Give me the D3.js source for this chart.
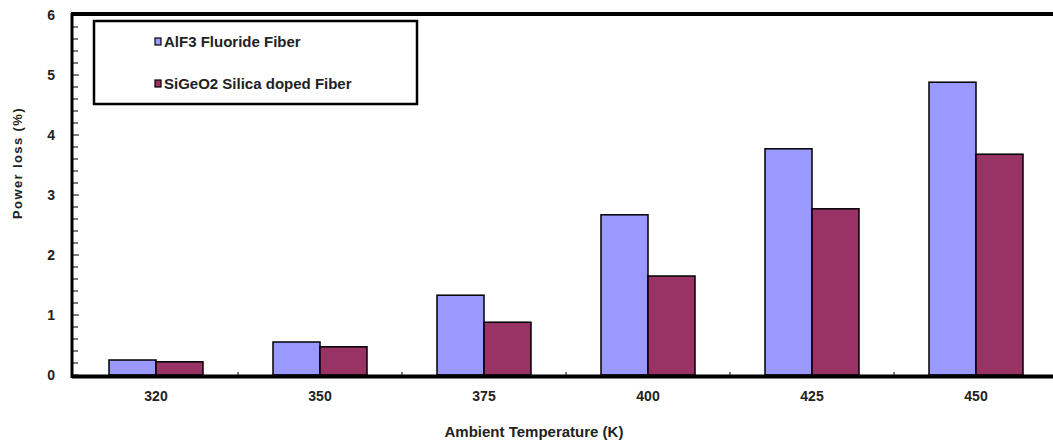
<!DOCTYPE html>
<html><head><meta charset="utf-8">
<script src="https://cdn.jsdelivr.net/npm/d3@7"></script>
<style>body{margin:0;background:#fff}svg{display:block}text{font-family:"Liberation Sans",Arial,sans-serif;fill:#222}</style>
</head><body><svg id="c" width="1053" height="443"></svg>
<script>
const categories = ["320","350","375","400","425","450"];
const seriesNames = ["AlF3 Fluoride Fiber","SiGeO2 Silica doped Fiber"];
const alf3 = [0.25,0.55,1.33,2.67,3.77,4.88];
const sige = [0.22,0.47,0.88,1.65,2.77,3.68];
const yTicks = [0,1,2,3,4,5,6];
const colors = ["#9999FF","#993366"];

const svg = d3.select("#c");
const x0 = 74, yTop = 15, yBot = 375;
const x = d3.scaleBand().domain(categories).range([x0, x0+164*6]).paddingInner(0).paddingOuter(0);
const y = d3.scaleLinear().domain([0,6]).range([yBot, yTop]);
const barW = 47;
const inner = d3.scaleBand().domain([0,1]).range([0, barW*2]);

const series = [alf3, sige];
series.forEach((vals,si)=>{
  svg.append("g").selectAll("rect").data(vals).join("rect")
    .attr("x",(d,i)=>x(categories[i]) + x.bandwidth()/2 - barW + inner(si))
    .attr("y",d=>y(d))
    .attr("width",barW)
    .attr("height",d=>y(0)-y(d))
    .attr("fill",colors[si]).attr("stroke","#000").attr("stroke-width",1.5);
});

// y axis minor ticks
const minor = d3.range(0,6.001,0.2);
svg.append("g").selectAll("line").data(minor).join("line")
  .attr("x1",x0-2).attr("x2",d=>Math.abs(d-Math.round(d))<1e-6? x0+5 : x0+4)
  .attr("y1",d=>y(d)).attr("y2",d=>y(d)).attr("stroke","#000").attr("stroke-width",1);
// y axis labels
svg.append("g").selectAll("text").data(yTicks).join("text")
  .attr("x",55).attr("y",d=>y(d)).attr("dy","0.35em").attr("text-anchor","end")
  .attr("font-size",14).attr("font-weight","bold").attr("fill","#333").text(d=>d);
// x ticks at band boundaries
svg.append("g").selectAll("line").data(categories.slice(1)).join("line")
  .attr("x1",d=>x(d)).attr("x2",d=>x(d)).attr("y1",yBot-3).attr("y2",yBot).attr("stroke","#000");
// x labels
svg.append("g").selectAll("text").data(categories).join("text")
  .attr("x",d=>x(d)+x.bandwidth()/2).attr("y",401).attr("text-anchor","middle")
  .attr("font-size",14).attr("font-weight","bold").attr("fill","#333").text(d=>d);

// axes lines
svg.append("line").attr("x1",x0-2).attr("x2",1053).attr("y1",yBot+1.5).attr("y2",yBot+1.5).attr("stroke","#000").attr("stroke-width",4);
svg.append("line").attr("x1",x0-2).attr("x2",x0-2).attr("y1",yTop-2).attr("y2",yBot+3).attr("stroke","#000").attr("stroke-width",3);
svg.append("line").attr("x1",x0-3).attr("x2",1053).attr("y1",yTop-1).attr("y2",yTop-1).attr("stroke","#000").attr("stroke-width",4);

// titles
svg.append("text").attr("x",534).attr("y",437).attr("text-anchor","middle").attr("font-size",15).attr("font-weight","bold").attr("fill","#333").text("Ambient Temperature (K)");
svg.append("text").attr("transform","translate(22,163) rotate(-90)").attr("text-anchor","middle").attr("font-size",13).attr("letter-spacing","1.4").attr("font-weight","bold").attr("fill","#333").text("Power loss (%)");

// legend
const lg = svg.append("g");
lg.append("rect").attr("x",94).attr("y",21).attr("width",323).attr("height",83).attr("fill","#fff").attr("stroke","#000").attr("stroke-width",2.5);
seriesNames.forEach((n,i)=>{
  const yy = [42,84][i];
  lg.append("rect").attr("x",155).attr("y",yy-4).attr("width",6).attr("height",7).attr("fill",colors[i]).attr("stroke","#000").attr("stroke-width",1.2);
  lg.append("text").attr("x",164).attr("y",yy).attr("dy","0.35em").attr("font-size",15).attr("font-weight","bold").attr("fill","#222").text(n);
});
</script></body></html>
